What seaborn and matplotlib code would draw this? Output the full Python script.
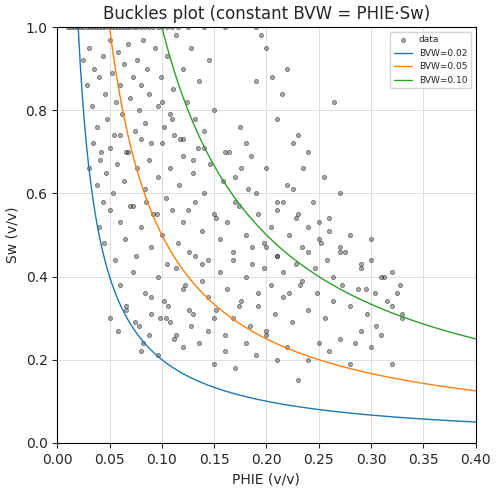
import numpy as np
import pandas as pd
import matplotlib
matplotlib.use("Agg")
import matplotlib.pyplot as plt
import seaborn as sns

# points (approximate)
phie = [
    0.010, 0.013, 0.016, 0.019, 0.022, 0.025, 0.028, 0.031, 0.034, 0.037, 0.040, 0.043,
    0.046, 0.049, 0.052, 0.055, 0.058, 0.061, 0.064, 0.067, 0.070, 0.073, 0.076, 0.080,
    0.084, 0.088, 0.092, 0.096, 0.100, 0.105, 0.110, 0.115, 0.125, 0.140, 0.160, 0.190,
    0.025, 0.028, 0.030, 0.033, 0.035, 0.038, 0.040, 0.042, 0.044, 0.046, 0.048, 0.050,
    0.052, 0.054, 0.056, 0.058, 0.060, 0.062, 0.064, 0.066, 0.068, 0.070, 0.072, 0.074,
    0.076, 0.078, 0.080, 0.082, 0.084, 0.086, 0.088, 0.090, 0.093, 0.096, 0.099, 0.102,
    0.105, 0.108, 0.111, 0.114, 0.117, 0.120, 0.124, 0.128, 0.132, 0.136, 0.140, 0.145,
    0.030, 0.034, 0.038, 0.041, 0.044, 0.047, 0.050, 0.053, 0.057, 0.060, 0.064, 0.068,
    0.072, 0.076, 0.080, 0.084, 0.088, 0.092, 0.096, 0.100, 0.104, 0.108, 0.112, 0.116,
    0.120, 0.125, 0.130, 0.135, 0.140, 0.146, 0.152, 0.158, 0.164, 0.170, 0.176, 0.182,
    0.040, 0.045, 0.050, 0.055, 0.060, 0.065, 0.070, 0.075, 0.080, 0.085, 0.090, 0.095,
    0.100, 0.105, 0.110, 0.115, 0.120, 0.126, 0.132, 0.138, 0.144, 0.150, 0.156, 0.162,
    0.168, 0.174, 0.180, 0.186, 0.192, 0.198, 0.204, 0.210, 0.216, 0.222, 0.228, 0.234,
    0.060, 0.066, 0.072, 0.078, 0.084, 0.090, 0.096, 0.102, 0.108, 0.114, 0.120, 0.126,
    0.132, 0.138, 0.144, 0.150, 0.156, 0.162, 0.168, 0.174, 0.180, 0.186, 0.192, 0.198,
    0.204, 0.210, 0.216, 0.222, 0.228, 0.234, 0.240, 0.246, 0.252, 0.258, 0.264, 0.270,
    0.080, 0.088, 0.096, 0.104, 0.112, 0.120, 0.128, 0.136, 0.144, 0.152, 0.160, 0.168,
    0.176, 0.184, 0.192, 0.200, 0.208, 0.216, 0.224, 0.232, 0.240, 0.248, 0.256, 0.264,
    0.272, 0.280, 0.288, 0.296, 0.304, 0.312, 0.320, 0.328, 0.330,
    0.100, 0.110, 0.120, 0.130, 0.140, 0.150, 0.160, 0.170, 0.180, 0.190, 0.200, 0.210,
    0.220, 0.230, 0.240, 0.250, 0.260, 0.270, 0.280, 0.290, 0.300, 0.310, 0.320, 0.325,
    0.150, 0.160, 0.170, 0.180, 0.190, 0.200, 0.210, 0.220, 0.230, 0.240, 0.250, 0.260,
    0.270, 0.280, 0.290, 0.300, 0.310, 0.320, 0.330, 0.315, 0.305, 0.295, 0.285, 0.275,
    0.050, 0.058, 0.066, 0.074, 0.082, 0.090, 0.098, 0.106, 0.114, 0.122, 0.130, 0.138,
    0.190, 0.200, 0.210, 0.215, 0.220, 0.225, 0.205, 0.195, 0.185, 0.175, 0.235, 0.245,
    0.255, 0.265, 0.240, 0.230, 0.225, 0.260, 0.270, 0.210, 0.200, 0.250, 0.290, 0.300,
]
sw = [
    1.00, 1.00, 1.00, 1.00, 1.00, 1.00, 1.00, 1.00, 1.00, 1.00, 1.00, 1.00,
    1.00, 1.00, 1.00, 1.00, 1.00, 1.00, 1.00, 1.00, 1.00, 1.00, 1.00, 1.00,
    1.00, 1.00, 1.00, 1.00, 1.00, 1.00, 1.00, 1.00, 1.00, 1.00, 1.00, 1.00,
    0.92, 0.86, 0.95, 0.81, 0.90, 0.76, 0.88, 0.70, 0.93, 0.84, 0.78, 0.97,
    0.89, 0.74, 0.82, 0.94, 0.86, 0.79, 0.91, 0.70, 0.96, 0.83, 0.88, 0.75,
    0.92, 0.80, 0.86, 0.97, 0.77, 0.90, 0.84, 0.72, 0.95, 0.81, 0.88, 0.76,
    0.93, 0.79, 0.85, 0.98, 0.73, 0.90, 0.82, 0.95, 0.78, 0.87, 0.71, 0.92,
    0.66, 0.72, 0.62, 0.68, 0.58, 0.65, 0.71, 0.60, 0.67, 0.74, 0.63, 0.70,
    0.57, 0.66, 0.73, 0.61, 0.68, 0.55, 0.64, 0.72, 0.59, 0.66, 0.74, 0.62,
    0.69, 0.56, 0.65, 0.71, 0.60, 0.67, 0.54, 0.63, 0.70, 0.58, 0.66, 0.61,
    0.52, 0.48, 0.56, 0.44, 0.53, 0.49, 0.57, 0.45, 0.52, 0.58, 0.47, 0.55,
    0.50, 0.43, 0.56, 0.48, 0.53, 0.46, 0.58, 0.51, 0.44, 0.55, 0.49, 0.53,
    0.46, 0.57, 0.50, 0.43, 0.55, 0.48, 0.52, 0.45, 0.58, 0.50, 0.54, 0.47,
    0.38, 0.33, 0.41, 0.28, 0.36, 0.31, 0.40, 0.34, 0.29, 0.42, 0.37, 0.32,
    0.45, 0.39, 0.35, 0.30, 0.41, 0.37, 0.44, 0.33, 0.40, 0.47, 0.36, 0.42,
    0.38, 0.45, 0.41, 0.36, 0.43, 0.39, 0.46, 0.42, 0.48, 0.44, 0.40, 0.47,
    0.22, 0.26, 0.21, 0.30, 0.25, 0.23, 0.28, 0.24, 0.27, 0.32, 0.26, 0.30,
    0.34, 0.28, 0.33, 0.27, 0.31, 0.35, 0.29, 0.38, 0.32, 0.36, 0.30, 0.34,
    0.38, 0.33, 0.37, 0.31, 0.36, 0.40, 0.33, 0.38, 0.31,
    0.82, 0.78, 0.73, 0.68, 0.75, 0.80, 0.70, 0.64, 0.72, 0.60, 0.66, 0.58,
    0.62, 0.55, 0.52, 0.49, 0.54, 0.46, 0.50, 0.42, 0.44, 0.40, 0.41, 0.36,
    0.19, 0.22, 0.18, 0.24, 0.21, 0.26, 0.20, 0.23, 0.15, 0.20, 0.24, 0.22,
    0.25, 0.19, 0.27, 0.23, 0.26, 0.19, 0.30, 0.34, 0.28, 0.37, 0.24, 0.46,
    0.30, 0.27, 0.32, 0.29, 0.24, 0.35, 0.30, 0.33, 0.26, 0.38, 0.31, 0.43,
    0.87, 0.95, 0.78, 0.84, 0.90, 0.72, 0.88, 0.98, 0.69, 0.76, 0.66, 0.58,
    0.64, 0.82, 0.70, 0.74, 0.61, 0.51, 0.60, 0.56, 0.47, 0.53, 0.43, 0.49,
]
bvw_levels = [0.02, 0.05, 0.10]

df = pd.DataFrame({"PHIE": phie, "Sw": sw})

sns.set_style("whitegrid")
plt.rcParams["font.family"] = ["DejaVu Sans"]
fig, ax = plt.subplots(figsize=(4.98, 4.92), dpi=100)

sns.scatterplot(data=df, x="PHIE", y="Sw", ax=ax, s=9, color="#444444",
                alpha=0.45, edgecolor="black", linewidth=0.6, label="data")

phi_grid = np.linspace(0.001, 0.4, 400)
colors = ["#1f77b4", "#ff7f0e", "#2ca02c"]
for bvw, c in zip(bvw_levels, colors):
    line = pd.DataFrame({"PHIE": phi_grid, "Sw": bvw / phi_grid})
    sns.lineplot(data=line, x="PHIE", y="Sw", ax=ax, color=c, linewidth=1,
                 label=f"BVW={bvw:.2f}")

ax.set_xlim(0, 0.4)
ax.set_ylim(0, 1)
ax.set_xticks(np.arange(0, 0.401, 0.05))
ax.set_xlabel("PHIE (v/v)")
ax.set_ylabel("Sw (v/v)")
ax.set_title("Buckles plot (constant BVW = PHIE·Sw)")
ax.grid(True, color="#dddddd", linewidth=0.7)
for s in ax.spines.values():
    s.set_color("black")
ax.tick_params(left=True, bottom=True, length=3.5)
ax.legend(loc="upper right", fontsize=6.5, frameon=True)
fig.subplots_adjust(left=0.115, right=0.955, top=0.945, bottom=0.1)
fig.savefig("out.png", dpi=100)
